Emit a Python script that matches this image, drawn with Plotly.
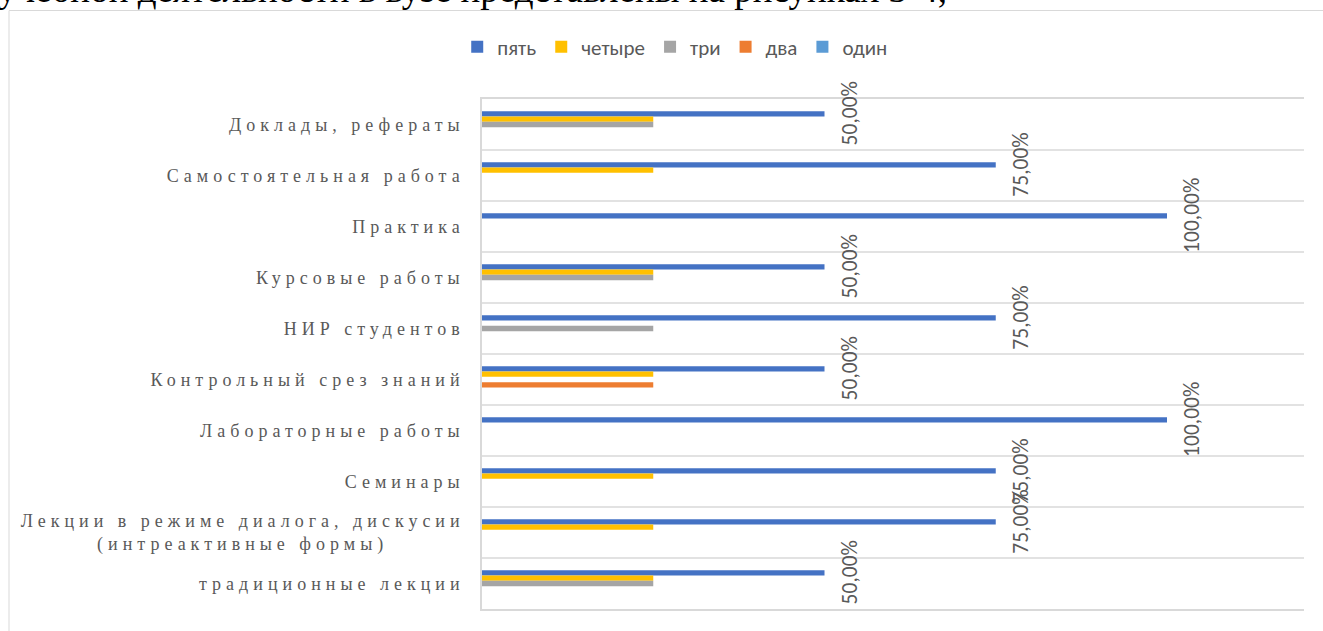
import plotly.graph_objects as go

# ---- data ----
categories = [
    "Доклады, рефераты",
    "Самостоятельная работа",
    "Практика",
    "Курсовые работы",
    "НИР студентов",
    "Контрольный срез знаний",
    "Лабораторные работы",
    "Семинары",
    "Лекции в режиме диалога, дискусии<br>(интреактивные формы)",
    "традиционные лекции",
]
series_names = ["пять", "четыре", "три", "два", "один"]
five = [0.50, 0.75, 1.00, 0.50, 0.75, 0.50, 1.00, 0.75, 0.75, 0.50]
four = [0.25, 0.25, 0.00, 0.25, 0.00, 0.25, 0.00, 0.25, 0.25, 0.25]
three = [0.25, 0.00, 0.00, 0.25, 0.25, 0.00, 0.00, 0.00, 0.00, 0.25]
two = [0.00, 0.00, 0.00, 0.00, 0.00, 0.25, 0.00, 0.00, 0.00, 0.00]
one = [0.00, 0.00, 0.00, 0.00, 0.00, 0.00, 0.00, 0.00, 0.00, 0.00]
doc_text = "учебной деятельности в вузе представлены на рисунках 3-4,"

# ---- style ----
colors = ["#4472C4", "#FFC000", "#A5A5A5", "#ED7D31", "#5B9BD5"]
W, H = 1323, 631
ML, MR, MT, MB = 482, 19, 99, 22
PW, PH = W - ML - MR, H - MT - MB
sans = "Carlito, 'Liberation Sans Narrow', 'Liberation Sans', sans-serif"
serif = "'Liberation Serif', 'Times New Roman', serif"
grey_txt = "#595959"
grid = "#d9d9d9"
BARGAP = 0.48

def px_x(p):
    return (p - ML) / PW

def px_y(p):
    return (H - MB - p) / PH

fig = go.Figure()
for name, vals, col in zip(series_names, [five, four, three, two, one], colors):
    fig.add_trace(go.Bar(
        y=list(range(len(categories))), x=vals, name=name, orientation="h",
        marker=dict(color=col, line=dict(width=0)),
        hoverinfo="skip",
    ))

# data labels for "пять"
bw = (1 - BARGAP) / len(series_names)
off = -(1 - BARGAP) / 2 + bw / 2
annotations = []
for i, v in enumerate(five):
    annotations.append(dict(
        x=v, y=i + off, xref="x", yref="y",
        text=f"{v*100:.2f}%".replace(".", ","),
        showarrow=False, textangle=-90,
        xanchor="left", yanchor="middle", xshift=10,
        font=dict(family=sans, size=21.5, color=grey_txt),
    ))

# cut-off document text above the chart
annotations.append(dict(
    x=px_x(-4), y=px_y(-11), xref="paper", yref="paper",
    text=doc_text, showarrow=False, xanchor="left", yanchor="middle",
    font=dict(family=serif, size=37, color="#000000"),
))

fig.update_layout(
    width=W, height=H,
    margin=dict(l=ML, r=MR, t=MT, b=MB, pad=0, autoexpand=False),
    paper_bgcolor="white", plot_bgcolor="white",
    barmode="group", bargap=BARGAP, bargroupgap=0,
    showlegend=True,
    legend=dict(
        orientation="h", xref="container", yref="container",
        x=0.51, xanchor="center", y=1 - 47 / H, yanchor="middle",
        font=dict(family=sans, size=21, color=grey_txt),
        itemwidth=30, traceorder="normal",
    ),
    xaxis=dict(
        range=[0, 1.2], showticklabels=False, showgrid=False, zeroline=False,
        showline=True, mirror=True, linecolor=grid, linewidth=1.5, ticks="",
    ),
    yaxis=dict(
        type="linear", range=[len(categories) - 0.5, -0.5],
        tickmode="array", tickvals=list(range(len(categories))), ticktext=categories,
        showgrid=False, zeroline=False,
        showline=True, linecolor=grid, linewidth=1.5, ticks="",
        tickfont=dict(family=serif, size=18, color=grey_txt),
        ticklabelstandoff=12,
    ),
    annotations=annotations,
    shapes=[
        dict(type="rect", xref="paper", yref="paper",
             x0=px_x(9), x1=px_x(W + 20), y0=px_y(H + 20), y1=px_y(10.5),
             line=dict(color=grid, width=1), fillcolor="rgba(0,0,0,0)", layer="below"),
    ] + [
        dict(type="line", xref="paper", yref="y", x0=0, x1=1,
             y0=k - 0.5, y1=k - 0.5, line=dict(color=grid, width=1.5), layer="below")
        for k in range(1, len(categories))
    ],
)

post = """
document.body.style.margin = '0';
document.body.style.overflow = 'hidden';
var gd = document.getElementById('{plot_id}');
var st = document.createElement('style');
st.textContent = '.ytick text{letter-spacing:5px}';
document.head.appendChild(st);
gd.querySelectorAll('.ytick text').forEach(function(t){
  var ls = t.querySelectorAll('tspan.line');
  if (ls.length > 1) {
    var ws = [], m = 0;
    ls.forEach(function(s){var w = s.getComputedTextLength(); ws.push(w); if (w > m) m = w;});
    ls.forEach(function(s, i){
      var x = parseFloat(s.getAttribute('x'));
      s.setAttribute('x', x - (m - ws[i]) / 2);
    });
  }
});
"""

fig.write_html("out.html", post_script=post, config={"displayModeBar": False})
